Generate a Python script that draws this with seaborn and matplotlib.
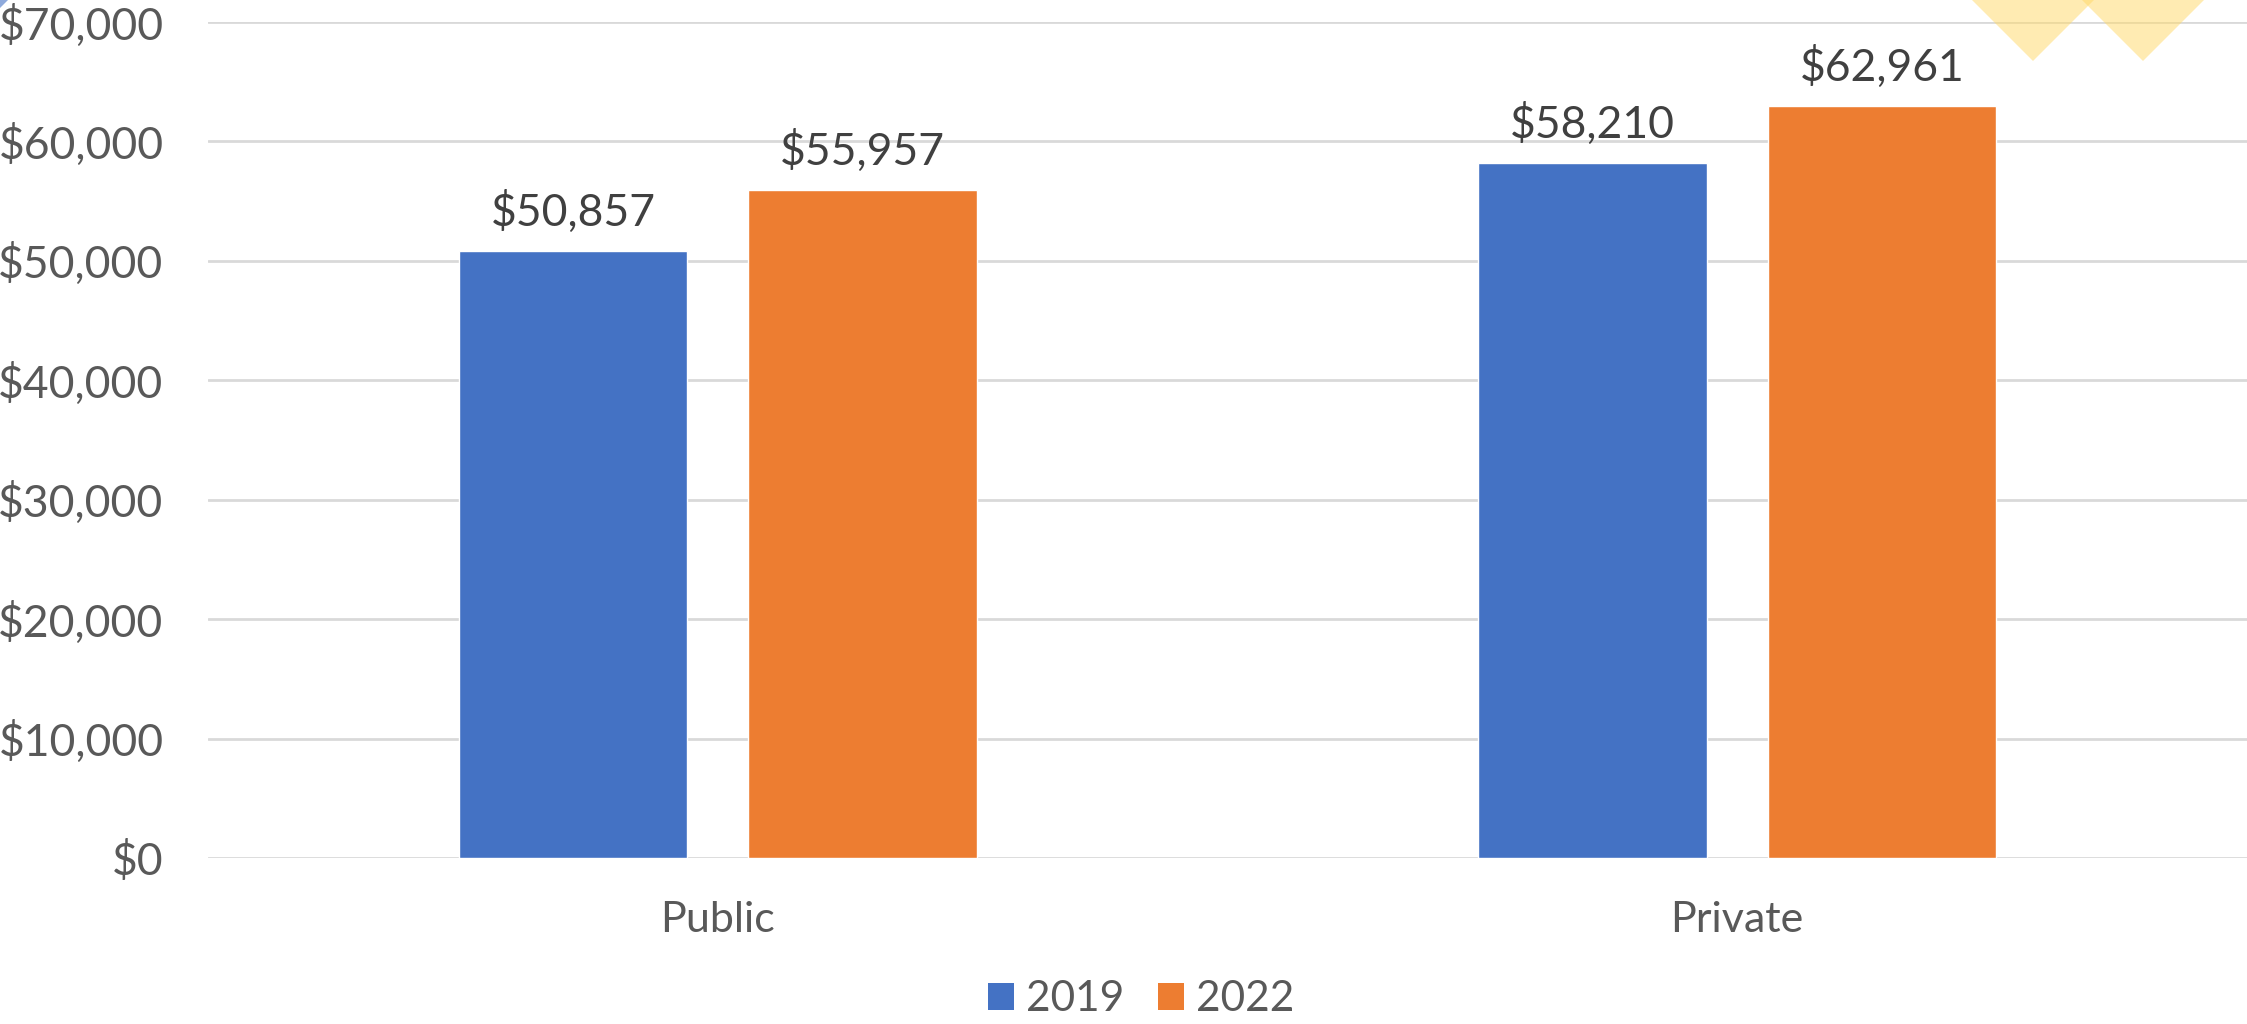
import pandas as pd
import matplotlib.pyplot as plt
import seaborn as sns
from matplotlib.patches import Polygon, Patch

# data
sectors = ['Public', 'Private']
years = ['2019', '2022']
salary_2019 = [50857, 58210]
salary_2022 = [55957, 62961]

df = pd.DataFrame({
    'sector': sectors * 2,
    'year': [years[0]] * 2 + [years[1]] * 2,
    'salary': salary_2019 + salary_2022,
})

sns.set_theme(style='white')
plt.rcParams['font.family'] = ['Lato', 'DejaVu Sans']

W, H = 2247, 1024
fig = plt.figure(figsize=(W / 100, H / 100), dpi=100)
ax = fig.add_axes([208 / W, 1 - 858 / H, 1 - 208 / W, (858 - 22) / H])

colors = ['#4472C4', '#ED7D31']
sns.barplot(data=df, x='sector', y='salary', hue='year', palette=colors,
            width=0.568, gap=0.211, saturation=1, legend=False, ax=ax)

ax.set_ylim(0, 70000)
ax.set_xlim(-0.5, 1.5)
ax.set_yticks(range(0, 70001, 10000))
ax.set_yticklabels(['${:,}'.format(v) for v in range(0, 70001, 10000)])
ax.set_xlabel('')
ax.set_ylabel('')
ax.grid(axis='y', color='#D9D9D9', linewidth=2)
ax.set_axisbelow(True)
for s in ax.spines.values():
    s.set_visible(False)
ax.tick_params(axis='y', length=0, pad=32, labelsize=32, labelcolor='#595959')
ax.tick_params(axis='x', length=0, pad=31, labelsize=31, labelcolor='#595959')

for cont in ax.containers:
    ax.bar_label(cont, labels=['${:,.0f}'.format(b.get_height()) for b in cont],
                 padding=12, fontsize=32, color='#404040')

handles = [Patch(facecolor=c, edgecolor='none') for c in colors]
fig.legend(handles, years, loc='center', bbox_to_anchor=(0.508, 1 - 999 / H),
           ncol=2, frameon=False, fontsize=30.5, labelcolor='#595959',
           handlelength=0.6, handleheight=0.6, handletextpad=0.3,
           columnspacing=0.8)

# decorative diamonds cut off at the top edge
def px(x, y):
    return (x / W, 1 - y / H)

for cx in [2033, 2143]:
    pts = [px(cx - 122, -61), px(cx, 61), px(cx + 122, -61), px(cx, -183)]
    fig.patches.append(Polygon(pts, closed=True, transform=fig.transFigure,
                               facecolor='#FFD966', alpha=0.5, edgecolor='none'))
fig.patches.append(Polygon([px(0, 0), px(8, 0), px(0, 8)], closed=True,
                           transform=fig.transFigure, facecolor='#8FAADC',
                           edgecolor='none'))

fig.savefig('out.png', dpi=100)
